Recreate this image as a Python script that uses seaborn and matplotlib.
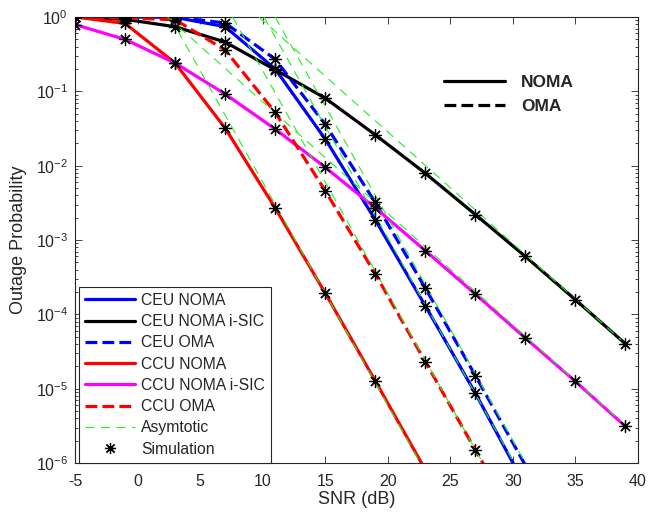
import numpy as np
import pandas as pd
import matplotlib
matplotlib.use("Agg")
import matplotlib.pyplot as plt
import seaborn as sns
from matplotlib.lines import Line2D
from matplotlib.ticker import LogLocator, NullFormatter

# ---------------- data ----------------
snr = [-5, -1, 3, 7, 11, 15, 19, 23, 27, 31, 35, 39]

ceu_noma = [1.0, 1.0, 0.99, 0.74, 0.20, 0.0228, 0.00187, 1.3e-4, 8.7e-6, 4.9e-7]
ceu_noma_isic = [1.0, 0.93, 0.74, 0.46, 0.195, 0.081, 0.026, 0.0079, 0.0022, 6.0e-4, 1.57e-4, 4.0e-5]
ceu_oma = [1.0, 1.0, 1.0, 0.83, 0.27, 0.036, 0.0032, 2.25e-4, 1.5e-5, 9.3e-7]
ccu_noma = [1.0, 0.82, 0.24, 0.032, 0.0027, 1.93e-4, 1.27e-5, 8.1e-7]
ccu_noma_isic = [0.79, 0.50, 0.24, 0.092, 0.031, 0.0095, 0.0027, 7.2e-4, 1.87e-4, 4.8e-5, 1.25e-5, 3.1e-6]
ccu_oma = [1.0, 0.97, 0.92, 0.36, 0.052, 0.0046, 3.5e-4, 2.3e-5, 1.5e-6, 1.0e-7]

# asymptotic straight lines (start / end points)
asym_ceu_noma_x, asym_ceu_noma_y = [10.1, 30.1], [1.0, 1e-6]
asym_ceu_noma_isic_x, asym_ceu_noma_isic_y = [9.7, 39.0], [1.0, 4.0e-5]
asym_ceu_oma_x, asym_ceu_oma_y = [11.0, 31.0], [1.0, 1e-6]
asym_ccu_noma_x, asym_ccu_noma_y = [2.6, 22.6], [1.0, 1e-6]
asym_ccu_noma_isic_x, asym_ccu_noma_isic_y = [2.4, 39.0], [1.0, 3.2e-6]
asym_ccu_oma_x, asym_ccu_oma_y = [7.6, 27.6], [1.0, 1e-6]

labels = ["CEU NOMA", "CEU NOMA i-SIC", "CEU OMA", "CCU NOMA", "CCU NOMA i-SIC", "CCU OMA",
          "Asymtotic", "Simulation"]
xticks = [-5, 0, 5, 10, 15, 20, 25, 30, 35, 40]

# ---------------- styling ----------------
sns.set_style("ticks")
plt.rcParams["font.family"] = ["Liberation Sans", "DejaVu Sans"]
plt.rcParams["mathtext.fontset"] = "custom"
plt.rcParams["mathtext.rm"] = "Liberation Sans"
plt.rcParams["mathtext.it"] = "Liberation Sans:italic"
plt.rcParams["mathtext.bf"] = "Liberation Sans:bold"

fig = plt.figure(figsize=(6.48, 5.16), dpi=100)
ax = fig.add_axes([75 / 648, 1 - 463 / 516, (638 - 75) / 648, (463 - 17) / 516])
ax.set_yscale("log")

LW = 2.3
series = [
    (ceu_noma, "#0000ff", "-"),
    (ceu_noma_isic, "#000000", "-"),
    (ceu_oma, "#0000ff", "--"),
    (ccu_noma, "#ff0000", "-"),
    (ccu_noma_isic, "#ff00ff", "-"),
    (ccu_oma, "#ff0000", "--"),
]
for vals, col, ls in series:
    df = pd.DataFrame({"snr": snr[:len(vals)], "p": vals})
    sns.lineplot(data=df, x="snr", y="p", ax=ax, color=col, lw=LW, linestyle=ls,
                 estimator=None, sort=False, zorder=2)

green = "#22ee22"
for ax_x, ax_y in [(asym_ceu_noma_x, asym_ceu_noma_y), (asym_ceu_noma_isic_x, asym_ceu_noma_isic_y),
                   (asym_ceu_oma_x, asym_ceu_oma_y), (asym_ccu_noma_x, asym_ccu_noma_y),
                   (asym_ccu_noma_isic_x, asym_ccu_noma_isic_y), (asym_ccu_oma_x, asym_ccu_oma_y)]:
    sns.lineplot(x=ax_x, y=ax_y, ax=ax, color=green, lw=0.8, linestyle=(0, (8, 6)),
                 estimator=None, sort=False, zorder=3)

# simulation markers (only points within the visible range)
for vals, _, _ in series:
    pts = [(s, v) for s, v in zip(snr, vals) if v >= 1e-6]
    sdf = pd.DataFrame(pts, columns=["snr", "p"])
    sns.scatterplot(data=sdf, x="snr", y="p", ax=ax, marker=(8, 2, 0), s=75,
                    color="k", edgecolor="k", linewidth=0.9, zorder=5)

ax.set_xlim(-5, 40)
ax.set_ylim(1e-6, 1)
ax.set_xticks(xticks)
ax.set_xticklabels([str(t) for t in xticks])
ax.yaxis.set_major_locator(LogLocator(base=10, numticks=10))
ax.yaxis.set_minor_locator(LogLocator(base=10, subs=np.arange(2, 10), numticks=20))
ax.yaxis.set_minor_formatter(NullFormatter())
ax.tick_params(which="both", direction="in", top=True, right=True, labelsize=11.5,
               colors="0.15", width=0.6)
ax.tick_params(axis="x", which="major", pad=8)
ax.tick_params(axis="y", which="major", pad=5)
ax.tick_params(which="major", length=5)
ax.tick_params(which="minor", length=2.5)
for sp in ax.spines.values():
    sp.set_linewidth(0.8)
    sp.set_color("0.15")
ax.set_xlabel("SNR (dB)", fontsize=13, color="0.15", labelpad=1)
ax.set_ylabel("Outage Probability", fontsize=13, color="0.15", labelpad=6)

# main legend
handles = [
    Line2D([], [], color="#0000ff", lw=LW, ls="-"),
    Line2D([], [], color="#000000", lw=LW, ls="-"),
    Line2D([], [], color="#0000ff", lw=LW, ls="--"),
    Line2D([], [], color="#ff0000", lw=LW, ls="-"),
    Line2D([], [], color="#ff00ff", lw=LW, ls="-"),
    Line2D([], [], color="#ff0000", lw=LW, ls="--"),
    Line2D([], [], color=green, lw=0.8, ls=(0, (8, 6))),
    Line2D([], [], color="k", ls="none", marker=(8, 2, 0), ms=8, mew=0.9),
]
leg1 = ax.legend(handles, labels, loc="lower left", bbox_to_anchor=(0.007, 0.0),
                 borderaxespad=0, fontsize=11.3, handlelength=3.2, handletextpad=0.35,
                 labelspacing=0.4, fancybox=False, edgecolor="0.15", framealpha=1,
                 borderpad=0.4)
leg1.get_frame().set_linewidth(0.8)
ax.add_artist(leg1)

h2 = [Line2D([], [], color="k", lw=LW, ls="-"), Line2D([], [], color="k", lw=LW, ls="--")]
leg2 = ax.legend(h2, ["NOMA", "OMA"], loc="center left", bbox_to_anchor=(0.655, 0.826),
                 frameon=False, borderaxespad=0, borderpad=0, handlelength=3.5,
                 handletextpad=0.95, labelspacing=0.5, prop={"size": 12.5, "weight": "bold"})

fig.savefig("out.png", dpi=100)
